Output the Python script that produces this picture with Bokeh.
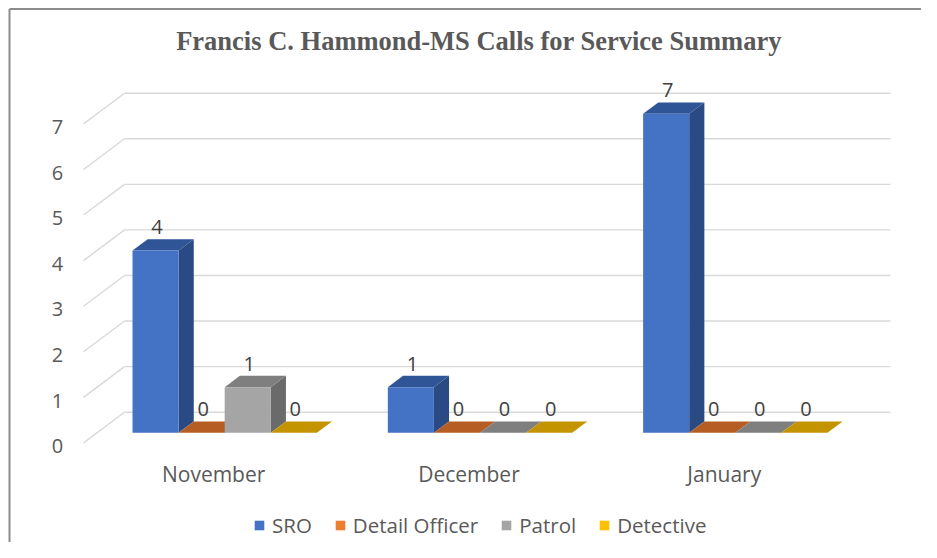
from bokeh.plotting import figure
from bokeh.models import Legend, LegendItem
from bokeh.core.properties import value
from bokeh.embed import file_html
from bokeh.resources import INLINE

# ---------------- data ----------------
title_text = "Francis C. Hammond-MS Calls for Service Summary"
months = ["November", "December", "January"]
series_names = ["SRO", "Detail Officer", "Patrol", "Detective"]
sro = [4, 1, 7]
detail_officer = [0, 0, 0]
patrol = [1, 0, 0]
detective = [0, 0, 0]
y_ticks = [0, 1, 2, 3, 4, 5, 6, 7]

series_values = [sro, detail_officer, patrol, detective]

# ---------------- styles ----------------
front_colors = ["#4472C4", "#ED7D31", "#A5A5A5", "#FFC000"]
top_colors = ["#2F5597", "#B55D22", "#7F7F7F", "#C49400"]
side_colors = ["#2A4A84", "#A0521D", "#6A6A6A", "#AD8300"]
text_color = "#595959"
grid_color = "#D9D9D9"
FONT = "Open Sans"

# ---------------- geometry (scale calibration) ----------------
W, H = 921, 542
PX_X = 255.3     # px per category
PX_Y = 45.57     # px per unit value
X0, Y0 = 124.0, 411.7   # canvas px of back-wall origin
DX = -41.0 / PX_X       # depth vector (to the front) in data units
DY = -30.7 / PX_Y
F_FRONT = 0.67
F_BACK = 0.30
GROUP = 0.722
SLOT = GROUP / len(series_names)

x_start = (0 - X0) / PX_X
x_end = x_start + W / PX_X
y_end = (Y0 - 0) / PX_Y
y_start = y_end - H / PX_Y

p = figure(width=W, height=H, x_range=(x_start, x_end), y_range=(y_start, y_end),
           output_backend="svg", toolbar_location=None,
           x_axis_type=None, y_axis_type=None, min_border=0,
           min_border_left=0, min_border_right=0, min_border_top=0, min_border_bottom=0)
p.grid.visible = False
p.outline_line_color = None
p.background_fill_color = "white"
p.border_fill_color = "white"

# chart border (only left and top edges fall inside the view)
bx = (9 - X0) / PX_X
by = (Y0 - 8.5) / PX_Y
p.segment(x0=[bx, bx], y0=[y_start - 1, by], x1=[bx, x_end + 1], y1=[by, by],
          line_color="#8C8C8C", line_width=2)

# back-wall gridlines and side-wall diagonals
n_cat = len(months)
p.segment(x0=[0] * len(y_ticks), x1=[n_cat] * len(y_ticks), y0=y_ticks, y1=y_ticks,
          line_color=grid_color, line_width=1.4)
p.segment(x0=[0] * len(y_ticks), x1=[DX] * len(y_ticks), y0=y_ticks,
          y1=[t + DY for t in y_ticks], line_color=grid_color, line_width=1.4)

# tick labels
p.text(x=[DX - 26 / PX_X] * len(y_ticks), y=[t + DY - 3.3 / PX_Y for t in y_ticks],
       text=[str(t) for t in y_ticks], text_align="center", text_baseline="middle",
       text_font=value(FONT), text_font_size="20px", text_color=text_color)

# category labels
p.text(x=[i + 0.5 + DX + 2.5 / PX_X for i in range(n_cat)], y=[DY - 30.6 / PX_Y] * n_cat,
       text=months, text_align="center", text_baseline="middle",
       text_font=value(FONT), text_font_size="21px", text_color=text_color)

# title
p.text(x=[(478.5 - X0) / PX_X], y=[(Y0 - 40) / PX_Y], text=[title_text],
       text_align="center", text_baseline="middle", text_font=value("Liberation Serif"),
       text_font_style="bold", text_font_size="26.5px", text_color=text_color)

# 3D bars
bdx = (F_BACK - F_FRONT) * DX
bdy = (F_BACK - F_FRONT) * DY
legend_items = []
for j, (name, vals) in enumerate(zip(series_names, series_values)):
    fx, fy, tx, ty, sx, sy = [], [], [], [], [], []
    lx, ly, lt = [], [], []
    for i, v in enumerate(vals):
        xl = i + 0.5 - GROUP / 2 + j * SLOT + F_FRONT * DX
        x0, x1 = xl, xl + SLOT
        y0 = F_FRONT * DY
        y1 = v + F_FRONT * DY
        fx.append([x0, x1, x1, x0]); fy.append([y0, y0, y1, y1])
        tx.append([x0, x1, x1 + bdx, x0 + bdx]); ty.append([y1, y1, y1 + bdy, y1 + bdy])
        sx.append([x1, x1 + bdx, x1 + bdx, x1]); sy.append([y0, y0 + bdy, y1 + bdy, y1])
        lx.append(x0 + SLOT / 2 + 1.5 / PX_X)
        ly.append(y1 + bdy + 12.0 / PX_Y)
        lt.append(str(v))
    p.patches(xs=sx, ys=sy, fill_color=side_colors[j], line_color=None)
    p.patches(xs=tx, ys=ty, fill_color=top_colors[j], line_color=None)
    r = p.patches(xs=fx, ys=fy, fill_color=front_colors[j], line_color=None)
    p.text(x=lx, y=ly, text=lt, text_align="center", text_baseline="middle",
           text_font=value(FONT), text_font_size="20px", text_color="#404040")
    legend_items.append(LegendItem(label=name, renderers=[r]))

legend = Legend(items=legend_items, orientation="horizontal", location=(253, 3),
                padding=0, margin=0, spacing=22, glyph_width=12, glyph_height=12,
                label_standoff=7, label_height=20, label_text_font=FONT,
                label_text_font_size="20.5px", label_text_color=text_color,
                border_line_color=None, background_fill_alpha=0)
p.add_layout(legend)

open("out.html", "w").write(file_html(p, INLINE))
